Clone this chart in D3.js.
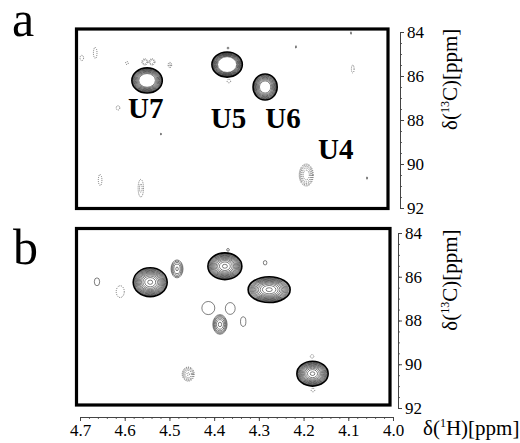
<!DOCTYPE html>
<html>
<head>
<meta charset="utf-8">
<script src="https://cdn.jsdelivr.net/npm/d3@7"></script>
<style>
  body { margin: 0; background: #fff; }
</style>
</head>
<body>
<div id="chart"></div>
<script>
// peaks: [1H ppm, 13C ppm, half width 1H, half width 13C, amplitude]
// negative amplitude = negative contours (dotted)
var peaksA = [
  [4.550, 86.20, 0.034, 0.57, 6],     // U7
  [4.371, 85.48, 0.034, 0.57, 8],     // U5
  [4.286, 86.50, 0.027, 0.59, 5],     // U6
  [4.194, 90.50, 0.0157, 0.50, -2],
  [4.555, 85.36, 0.0067, 0.14, -1.3],
  [4.539, 85.36, 0.0067, 0.14, -1.3],
  [4.595, 85.41, 0.003, 0.07, -1.1],
  [4.499, 85.50, 0.004, 0.12, -1.2],
  [4.696, 85.18, 0.004, 0.12, -1.1],
  [4.666, 84.95, 0.004, 0.25, -1.1],
  [4.615, 87.45, 0.004, 0.10, -1.1],
  [4.655, 90.73, 0.004, 0.25, -1.1],
  [4.564, 91.10, 0.006, 0.40, -1.2],
  [4.369, 84.73, 0.002, 0.04, 1.1],
  [4.367, 86.23, 0.004, 0.08, -1.1],
  [4.519, 88.64, 0.001, 0.05, 1.1],
  [4.090, 85.68, 0.003, 0.18, -1.1],
  [4.094, 84.05, 0.001, 0.06, 1.1],
  [4.217, 84.68, 0.001, 0.06, 1.1],
  [4.058, 90.64, 0.001, 0.06, 1.1]
];

var peaksB = [
  [4.543, 86.25, 0.038, 0.66, 25],
  [4.483, 85.64, 0.0134, 0.41, 3],
  [4.376, 85.52, 0.038, 0.61, 25],
  [4.277, 86.59, 0.047, 0.59, 25],
  [4.180, 90.43, 0.035, 0.57, 25],
  [4.413, 87.43, 0.0145, 0.30, 1.2],
  [4.364, 87.45, 0.011, 0.27, 1.2],
  [4.387, 88.18, 0.016, 0.45, 4],
  [4.335, 88.05, 0.006, 0.22, 1.2],
  [4.458, 90.45, 0.0134, 0.32, -3],
  [4.662, 86.23, 0.006, 0.18, 1.1],
  [4.610, 86.68, 0.009, 0.27, -1.2],
  [4.369, 84.77, 0.003, 0.06, 1.1],
  [4.286, 85.36, 0.004, 0.10, 1.1],
  [4.181, 89.64, 0.004, 0.08, -1.1],
  [4.179, 91.18, 0.004, 0.08, -1.1]
];

// contour levels of each spectrum (multiples of the lowest level)
var levelsA = [1, 1.15, 1.32, 1.52, 1.75, 2.01, 2.31, 2.66, 3.06, 3.52];
var levelsB = [1, 1.3, 1.69, 2.2, 2.86, 3.71, 4.83, 6.27, 8.16, 10.6, 13.8, 17.9, 23.3, 30.3];

var labelsA = [
  {name: "U7", h: 4.553, c: 87.9},
  {name: "U5", h: 4.368, c: 88.35},
  {name: "U6", h: 4.246, c: 88.35},
  {name: "U4", h: 4.128, c: 89.75}
];

var hTicks = [4.7, 4.6, 4.5, 4.4, 4.3, 4.2, 4.1, 4.0];
var cTicks = [84, 86, 88, 90, 92];

var width = 520, height = 443;
var serif = "Liberation Serif";

var svg = d3.select("#chart")
  .append("svg")
  .attr("width", width)
  .attr("height", height)
  .attr("font-family", serif);

var x = d3.scaleLinear().domain([4.7, 4.0]).range([80, 393]);
var ya = d3.scaleLinear().domain([84, 92]).range([32, 208]);
var yb = d3.scaleLinear().domain([84, 92]).range([233, 408]);

function drawPanel(id, peaks, levels, y, box, axisX) {
  var g = svg.append("g").attr("id", id);

  g.append("clipPath")
    .attr("id", "clip-" + id)
    .append("rect")
    .attr("x", box.x).attr("y", box.y)
    .attr("width", box.w).attr("height", box.h);

  var plot = g.append("g").attr("clip-path", "url(#clip-" + id + ")");

  peaks.forEach(function(p) {
    var amp = Math.abs(p[4]);
    var rx = Math.abs(x(p[0] + p[2]) - x(p[0]));
    var ry = Math.abs(y(p[1] + p[3]) - y(p[1]));
    var lv = levels.filter(function(l) { return l < amp; });
    plot.selectAll(null)
      .data(lv)
      .enter()
      .append("ellipse")
      .attr("cx", x(p[0]))
      .attr("cy", y(p[1]))
      .attr("rx", function(l) { return rx * Math.sqrt(Math.log(amp / l) / Math.log(amp)); })
      .attr("ry", function(l) { return ry * Math.sqrt(Math.log(amp / l) / Math.log(amp)); })
      .attr("fill", "none")
      .attr("stroke", p[4] < 0 ? "#444" : "#000")
      .attr("stroke-width", function(l, i) {
        if (p[4] < 0) return 0.7;
        return (i == 0 && amp > 4) ? 1.6 : 0.5;
      })
      .attr("stroke-dasharray", p[4] < 0 ? "1,1" : null);
  });

  g.append("rect")
    .attr("x", box.x).attr("y", box.y)
    .attr("width", box.w).attr("height", box.h)
    .attr("fill", "none")
    .attr("stroke", "#000")
    .attr("stroke-width", 3.2);

  // right hand 13C axis
  var minor = d3.range(84, 92.01, 0.5);
  g.append("g")
    .attr("transform", "translate(" + axisX + ",0)")
    .call(d3.axisRight(y).tickValues(minor).tickSize(2).tickSizeOuter(0).tickFormat(""))
    .call(function(a) { a.select(".domain").remove(); a.selectAll("line").attr("stroke", "#666"); });

  g.append("g")
    .attr("transform", "translate(" + axisX + ",0)")
    .call(d3.axisRight(y).tickValues(cTicks).tickSize(4).tickSizeOuter(0).tickPadding(3))
    .call(function(a) {
      a.attr("font-family", serif).attr("font-size", 17);
      a.select(".domain").attr("stroke", "#444");
      a.selectAll("line").attr("stroke", "#444");
      a.selectAll("text").attr("fill", "#000");
    });

  var t = g.append("text")
    .attr("transform", "translate(457," + ((y(84) + y(88.3)) / 2) + ") rotate(-90)")
    .attr("text-anchor", "middle")
    .attr("font-size", 21);
  t.append("tspan").text("δ(");
  t.append("tspan").attr("font-size", 12).attr("dy", -8).text("13");
  t.append("tspan").attr("dy", 8).text("C)[ppm]");
  return g;
}

drawPanel("a", peaksA, levelsA, ya, {x: 76.5, y: 29, w: 311.5, h: 179.5}, 400);
drawPanel("b", peaksB, levelsB, yb, {x: 76.5, y: 228.5, w: 313.5, h: 176.5}, 398);

// peak names in spectrum a
svg.selectAll(".plabel")
  .data(labelsA)
  .enter()
  .append("text")
  .attr("class", "plabel")
  .attr("x", function(d) { return x(d.h); })
  .attr("y", function(d) { return ya(d.c); })
  .attr("text-anchor", "middle")
  .attr("font-weight", "bold")
  .attr("font-size", 29)
  .text(function(d) { return d.name; });

// panel letters
svg.append("text").attr("x", 12).attr("y", 36).attr("font-size", 50).text("a");
svg.append("text").attr("x", 13).attr("y", 264).attr("font-size", 50).text("b");

// 1H axis at the bottom
svg.append("g")
  .attr("transform", "translate(0,417)")
  .call(d3.axisBottom(x).tickValues(d3.range(4.0, 4.701, 0.02)).tickSize(2).tickSizeOuter(0).tickFormat(""))
  .call(function(a) { a.select(".domain").remove(); a.selectAll("line").attr("stroke", "#666"); });

svg.append("g")
  .attr("transform", "translate(0,417)")
  .call(d3.axisBottom(x).tickValues(hTicks).tickSize(4).tickSizeOuter(0).tickPadding(3).tickFormat(d3.format(".1f")))
  .call(function(a) {
    a.attr("font-family", serif).attr("font-size", 17);
    a.select(".domain").attr("stroke", "#444");
    a.selectAll("line").attr("stroke", "#444");
    a.selectAll("text").attr("fill", "#000");
  });

var xt = svg.append("text")
  .attr("x", 423)
  .attr("y", 435)
  .attr("font-size", 21);
xt.append("tspan").text("δ(");
xt.append("tspan").attr("font-size", 12).attr("dy", -8).text("1");
xt.append("tspan").attr("dy", 8).text("H)[ppm]");
</script>
</body>
</html>
